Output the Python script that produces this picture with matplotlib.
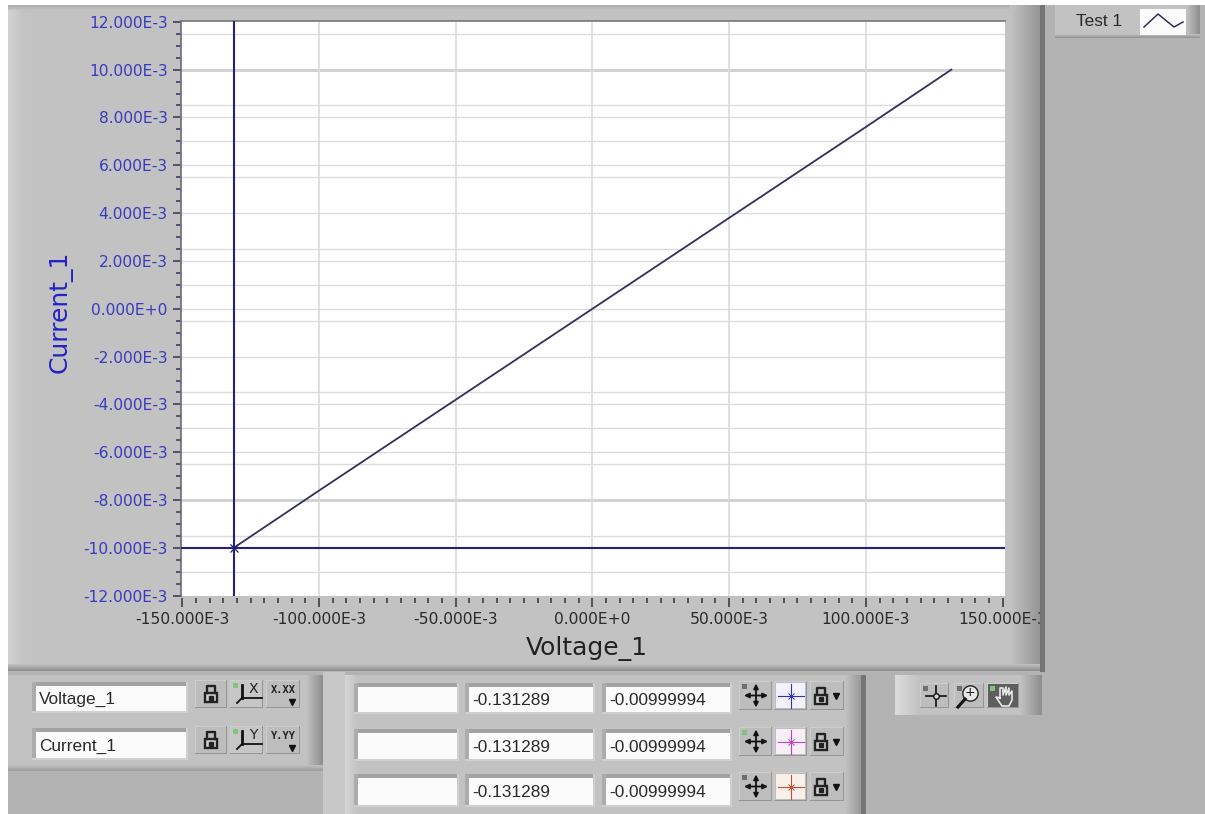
import numpy as np
import matplotlib
matplotlib.use('Agg')
import matplotlib.pyplot as plt
from matplotlib.patches import Rectangle

# datos
voltage = [-0.131289, -0.100, -0.050, 0.0, 0.050, 0.100, 0.1313]
current = [-0.00999994, -0.0076, -0.0038, 0.0, 0.0038, 0.0076, 0.0100]
cursor_x = -0.131289
cursor_y = -0.00999994

x_major = [-0.150, -0.100, -0.050, 0.0, 0.050, 0.100, 0.150]
x_labels = ['-150.000E-3', '-100.000E-3', '-50.000E-3', '0.000E+0',
            '50.000E-3', '100.000E-3', '150.000E-3']
y_major = [-0.012, -0.010, -0.008, -0.006, -0.004, -0.002, 0.0,
           0.002, 0.004, 0.006, 0.008, 0.010, 0.012]
y_labels = ['-12.000E-3', '-10.000E-3', '-8.000E-3', '-6.000E-3', '-4.000E-3',
            '-2.000E-3', '0.000E+0', '2.000E-3', '4.000E-3', '6.000E-3',
            '8.000E-3', '10.000E-3', '12.000E-3']
# las lineas horizontales de la rejilla no son regulares en la captura
y_grid = [11.5, 8.5, 8, 7, 6, 5.5, 4, 2.5, 2, 1, 0, -0.5, -2, -3.5, -4, -5,
          -6, -6.5, -9.5, -11]
y_grid_thick = [10, -8]

cursor_values = ['-0.131289', '-0.131289', '-0.131289']
cursor_y_values = ['-0.00999994', '-0.00999994', '-0.00999994']
axis_names = ['Voltage_1', 'Current_1']

W, H = 1205, 814
BG = '#b3b3b3'
PANEL = '#c2c2c2'
NAVY = '#22227a'
BLUE = '#3a3ac0'
DARK = '#2a2a2a'
cursor_colors = ['#3030c0', '#c040c0', '#c05030']
cursor_backs = ['#f2f2fc', '#f8eef8', '#faf0ea']

fig = plt.figure(figsize=(W / 100, H / 100), dpi=100, facecolor='white')
ui = fig.add_axes([0, 0, 1, 1], zorder=0)
ui.set_xlim(0, W)
ui.set_ylim(H, 0)
ui.axis('off')
top = fig.add_axes([0, 0, 1, 1], zorder=2)
top.set_xlim(0, W)
top.set_ylim(H, 0)
top.axis('off')
top.patch.set_alpha(0)


def box(ax, x0, y0, x1, y1, color, z=1):
    ax.add_patch(Rectangle((x0, y0), x1 - x0, y1 - y0, fc=color, ec='none', zorder=z))


def grad(ax, x0, y0, x1, y1, c0, c1, horizontal=True, z=1):
    a = np.array(matplotlib.colors.to_rgb(c0))
    b = np.array(matplotlib.colors.to_rgb(c1))
    t = np.linspace(0, 1, 32)[:, None]
    img = a * (1 - t) + b * t
    img = img[None, :, :] if horizontal else img[:, None, :]
    ax.imshow(img, extent=(x0, x1, y1, y0), aspect='auto', zorder=z, interpolation='bilinear')


def field(ax, x0, y0, x1, y1, text=''):
    box(ax, x0 - 4, y0 - 4, x1 + 2, y1 + 2, '#d0d0d0', 3)
    box(ax, x0 - 4, y0 - 4, x1, y0, '#a2a2a2', 3)
    box(ax, x0 - 4, y0 - 4, x0, y1, '#acacac', 3)
    box(ax, x0, y0, x1, y1, '#fbfbfb', 4)
    if text:
        ax.text(x0 + 3, (y0 + y1) / 2 + 1, text, fontsize=12.4, color=DARK, va='center', ha='left',
                family='Liberation Sans', zorder=5)


def button(ax, x0, y0, x1, y1, color='#bdbdbd'):
    box(ax, x0, y0, x1, y1, '#959595', 4)
    box(ax, x0, y0, x1 - 1, y1 - 1.5, '#cdcdcd', 4)
    box(ax, x0 + 1, y0 + 1, x1 - 1, y1 - 1.5, color, 4)


def lock(ax, cx, cy):
    ax.add_patch(Rectangle((cx - 6, cy - 1), 12, 9, fc='#cfcfcf', ec='#222222', lw=1.7, zorder=6))
    ax.plot([cx - 4, cx - 4, cx + 4, cx + 4], [cy - 1, cy - 8, cy - 8, cy - 1],
            color='#222222', lw=1.7, zorder=6)
    ax.plot([cx], [cy + 3.5], 's', ms=3, color='#222222', zorder=7)


def move_icon(ax, cx, cy):
    ax.annotate('', (cx + 12, cy), (cx - 12, cy), zorder=6,
                arrowprops=dict(arrowstyle='<|-|>', color='#111111', lw=1.3, mutation_scale=7, shrinkA=0, shrinkB=0))
    ax.annotate('', (cx, cy + 12), (cx, cy - 12), zorder=6,
                arrowprops=dict(arrowstyle='<|-|>', color='#111111', lw=1.3, mutation_scale=7, shrinkA=0, shrinkB=0))


def led(ax, x, y, color='#6f6f6f'):
    box(ax, x, y, x + 5, y + 5, color, 6)


def cross_icon(ax, cx, cy, color):
    ax.plot([cx - 13, cx + 13], [cy, cy], color=color, lw=0.8, zorder=6)
    ax.plot([cx, cx], [cy - 12, cy + 12], color=color, lw=0.8, zorder=6)
    ax.plot([cx], [cy], 'x', ms=5, mew=0.7, color=color, zorder=7)


def axis_icon(ax, y0, letter):
    ax.plot([237, 242, 262], [y0 + 23, y0 + 18, y0 + 18], color='#111111', lw=1.3, zorder=6)
    ax.plot([242, 242], [y0 + 18, y0 + 5], color='#111111', lw=2, zorder=6)
    ax.text(253, y0 + 9, letter, fontsize=10, ha='center', va='center', color='#222222', zorder=6)


# fondo y paneles
box(ui, 8, 5, W, H, BG)
box(ui, 8, 5, 1040, 671, PANEL)
grad(ui, 8, 5, 26, 671, '#d2d2d2', PANEL)
grad(ui, 8, 5, 1040, 10, '#aeaeae', PANEL, horizontal=False, z=1.5)
grad(ui, 1010, 5, 1040, 671, PANEL, '#969696', z=1.6)
grad(ui, 8, 664, 1040, 671, PANEL, '#8c8c8c', horizontal=False, z=1.7)

# panel inferior izquierdo
box(ui, 8, 675, 323, 771, PANEL, 2)
grad(ui, 306, 675, 323, 771, PANEL, '#8e8e8e', z=2.1)
grad(ui, 8, 765, 323, 771, PANEL, '#9a9a9a', horizontal=False, z=2.2)
box(ui, 323, 672, 345, H, '#c8c8c8', 2)
for name, letter, fmt, (fy0, fy1), (by0, by1) in zip(axis_names, ['X', 'Y'], ['X.XX', 'Y.YY'],
                                                     [(686, 711), (732, 758)], [(680, 708), (726, 754)]):
    field(ui, 36, fy0, 186, fy1, name)
    button(ui, 195, by0, 227, by1)
    lock(ui, 211, (by0 + by1) / 2)
    button(ui, 230, by0, 263, by1, '#c6c6c6')
    led(ui, 233, by0 + 3, '#7fc47f')
    axis_icon(ui, by0, letter)
    button(ui, 266, by0, 300, by1)
    ui.text(283, by0 + 10, fmt, fontsize=7.5, ha='center', va='center', color='#222222',
            family='DejaVu Sans Mono', weight='bold', zorder=6)
    ui.plot([292], [by0 + 22], 'v', ms=4, color='#111111', zorder=6)

# panel de cursores
box(ui, 345, 675, 866, H, PANEL, 2)
grad(ui, 345, 675, 358, H, '#d6d6d6', PANEL, z=2.1)
grad(ui, 845, 675, 861, H, PANEL, '#9a9a9a', z=2.2)
box(ui, 861, 675, 866, H, '#767676', 2.3)
rows_f = [(687, 712), (733, 759), (778, 805)]
rows_b = [(681, 710), (727, 756), (772, 801)]
for i in range(3):
    fy0, fy1 = rows_f[i]
    by0, by1 = rows_b[i]
    field(ui, 358, fy0, 457, fy1)
    field(ui, 469, fy0, 593, fy1, cursor_values[i])
    field(ui, 606, fy0, 730, fy1, cursor_y_values[i])
    button(ui, 739, by0, 772, by1)
    move_icon(ui, 756, (by0 + by1) / 2)
    led(ui, 742, by0 + 3, '#7fc47f' if i == 1 else '#6f6f6f')
    button(ui, 774, by0, 807, by1)
    box(ui, 776, by0 + 2, 805, by1 - 2, cursor_backs[i], 5)
    cross_icon(ui, 790.5, (by0 + by1) / 2, cursor_colors[i])
    button(ui, 810, by0, 844, by1)
    lock(ui, 821, (by0 + by1) / 2)
    ui.plot([836], [(by0 + by1) / 2], 'v', ms=4, color='#111111', zorder=6)

# paleta de herramientas
box(ui, 895, 675, 1042, 715, PANEL, 2)
grad(ui, 895, 675, 920, 715, '#dcdcdc', PANEL, z=2.1)
grad(ui, 1020, 675, 1042, 715, PANEL, '#8e8e8e', z=2.2)
button(ui, 920, 683, 949, 708)
led(ui, 923, 686)
ui.plot([926, 946], [696, 696], color='#111111', lw=1.2, zorder=6)
ui.plot([936, 936], [686, 706], color='#111111', lw=1.2, zorder=6)
ui.plot([936], [696], 'o', ms=4, mfc='#d8d8d8', mec='#111111', zorder=7)
button(ui, 954, 683, 984, 708)
led(ui, 957, 686)
ui.plot([970], [693], 'o', ms=11, mfc='#e6e6e6', mec='#222222', zorder=6)
ui.text(970, 693, '+', fontsize=9, ha='center', va='center', color='#111111', zorder=7)
ui.plot([958, 965], [707, 699], color='#111111', lw=2.2, zorder=6)
button(ui, 987, 683, 1019, 708, '#5e5e5e')
led(ui, 990, 686, '#7fc47f')
ui.plot([1000, 1000, 1003, 1003, 1006, 1006, 1009, 1009, 1012, 1012, 1009, 1002, 996, 1000],
        [698, 688, 688, 695, 687, 695, 688, 695, 691, 700, 706, 706, 697, 698],
        color='#e8e8e8', lw=1.2, zorder=6)

# grafica
ax = fig.add_axes([181 / W, 1 - 595.8 / H, (1005 - 181) / W, (595.8 - 20.8) / H], zorder=1)
ax.set_xlim(-0.1505, 0.1509)
ax.set_ylim(-0.012, 0.01204)
ax.set_facecolor('white')
for s in ['right', 'bottom']:
    ax.spines[s].set_visible(False)
ax.spines['left'].set_color('#6a6a7a')
ax.spines['top'].set_color('#777777')
ax.spines['left'].set_linewidth(1.2)
ax.spines['top'].set_linewidth(1.2)
ax.spines['bottom'].set_position(('outward', 1.5))

for g in y_grid:
    ax.axhline(g / 1000, color='#dcdcdc', lw=1.0, zorder=1)
for g in y_grid_thick:
    ax.axhline(g / 1000, color='#d0d0d0', lw=2.0, zorder=1)
for g in x_major[1:-1]:
    ax.axvline(g, color='#dadada', lw=1.2, zorder=1)

ax.plot(voltage, current, color='#30305e', lw=1.3, zorder=3)
ax.axvline(cursor_x, color=NAVY, lw=1.5, zorder=4)
ax.axhline(cursor_y, color=NAVY, lw=1.5, zorder=4)
ax.plot([cursor_x], [cursor_y], 'x', ms=6, mew=0.9, color=NAVY, zorder=5)

ax.set_xticks(x_major)
ax.set_xticklabels(x_labels, fontsize=11.2, color=DARK)
ax.set_yticks(y_major)
ax.set_yticklabels(y_labels, fontsize=11.2, color=BLUE)
ax.set_xticks(np.arange(-0.150, 0.1501, 0.005), minor=True)
ax.set_yticks(np.arange(-0.012, 0.01201, 0.0005), minor=True)
ax.tick_params(axis='x', which='major', length=6.5, width=1.1, color='#333333', pad=4)
ax.tick_params(axis='x', which='minor', length=3.6, width=1.1, color='#333333')
ax.tick_params(axis='y', which='major', length=6, width=1.1, color='#333355', pad=3.5)
ax.tick_params(axis='y', which='minor', length=3.6, width=1.1, color='#333355')
ax.set_xlabel('Voltage_1', fontsize=18, color='#222222')
ax.xaxis.set_label_coords(0.493, -0.07)
ax.set_ylabel('Current_1', fontsize=18, color='#2222c8')
ax.yaxis.set_label_coords(-0.131, 0.494)

# borde derecho encima de las etiquetas (recorta 150.000E-3)
box(top, 1040, 5, W, 672, BG)
box(top, 1040, 5, 1045, 672, '#747474', 2)
box(top, 1055, 5, 1200, 38, PANEL, 2)
grad(top, 1186, 5, 1200, 38, PANEL, '#8e8e8e', z=2.1)
grad(top, 1055, 34, 1200, 38, PANEL, '#929292', horizontal=False, z=2.2)
box(top, 1140, 9, 1186, 35, '#fbfbfb', 3)
top.plot([1144, 1158, 1174, 1183], [27, 14, 27, 22], color='#30305e', lw=1.1, zorder=4)
top.text(1076, 21, 'Test 1', fontsize=12.4, color=DARK, va='center', ha='left', family='Liberation Sans', zorder=4)
top.set_xlim(0, W)
top.set_ylim(H, 0)
ui.set_xlim(0, W)
ui.set_ylim(H, 0)

fig.savefig('out.png', dpi=100)
